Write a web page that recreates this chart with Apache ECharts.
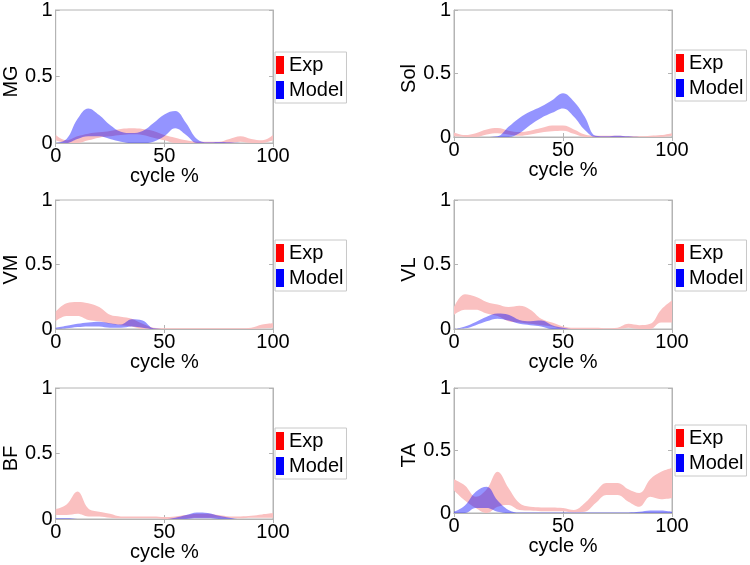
<!DOCTYPE html>
<html>
<head>
<meta charset="utf-8">
<script src="https://cdn.jsdelivr.net/npm/echarts@6/dist/echarts.min.js"></script>
<style>
  html, body { margin: 0; padding: 0; background: #fff; }
  #chart { width: 750px; height: 565px; }
</style>
</head>
<body>
<div id="chart"></div>
<script>
// cycle % sample points
const cyclePct = [0, 5, 10, 15, 20, 25, 30, 35, 40, 45, 50, 55, 60, 65, 70, 75, 80, 85, 90, 95, 100]
const muscles = ['MG', 'Sol', 'VM', 'VL', 'BF', 'TA']
const yTicks = [0, 0.5, 1]

// MG
const mgExpLo = [0.02, 0, 0, 0.02, 0.04, 0.05, 0.06, 0.065, 0.06, 0.04, 0.02, 0, 0, 0, 0, 0, 0, 0.01, 0, 0, 0.02]
const mgExpHi = [0.06, 0.02, 0.05, 0.07, 0.08, 0.09, 0.105, 0.11, 0.105, 0.09, 0.06, 0.04, 0.02, 0.01, 0.01, 0.01, 0.03, 0.05, 0.03, 0.02, 0.06]
const mgModLo = [0, 0, 0.03, 0.05, 0.05, 0.03, 0.01, 0, 0, 0.01, 0.05, 0.11, 0.06, 0, 0, 0, 0, 0, 0, 0, 0]
const mgModHi = [0, 0.03, 0.18, 0.26, 0.21, 0.135, 0.085, 0.075, 0.09, 0.15, 0.215, 0.24, 0.15, 0.03, 0.005, 0.008, 0.005, 0, 0, 0, 0]

// Sol
const solExpLo = [0.005, 0, 0, 0.02, 0.03, 0.02, 0.01, 0.02, 0.035, 0.045, 0.05, 0.025, 0, 0, 0, 0, 0, 0, 0, 0, 0.01]
const solExpHi = [0.035, 0.015, 0.03, 0.06, 0.07, 0.05, 0.04, 0.05, 0.07, 0.09, 0.09, 0.06, 0.02, 0.01, 0.01, 0.01, 0.005, 0.005, 0.01, 0.015, 0.03]
const solModLo = [0, 0, 0, 0, 0, 0, 0.03, 0.095, 0.15, 0.19, 0.225, 0.16, 0.055, 0, 0, 0, 0, 0, 0, 0, 0]
const solModHi = [0, 0, 0, 0, 0.005, 0.08, 0.15, 0.2, 0.24, 0.29, 0.345, 0.28, 0.16, 0.01, 0.005, 0.01, 0.005, 0, 0, 0, 0]

// VM
const vmExpLo = [0.06, 0.1, 0.1, 0.07, 0.06, 0.04, 0.03, 0.02, 0, 0, 0, 0, 0, 0, 0, 0, 0, 0, 0, 0.005, 0.01]
const vmExpHi = [0.135, 0.2, 0.21, 0.2, 0.17, 0.11, 0.095, 0.08, 0.04, 0.01, 0.005, 0.005, 0.005, 0.005, 0.005, 0.005, 0.005, 0.005, 0.01, 0.035, 0.045]
const vmModLo = [0, 0.005, 0.015, 0.02, 0.02, 0.01, 0.01, 0.02, 0.01, 0, 0, 0, 0, 0, 0, 0, 0, 0, 0, 0, 0]
const vmModHi = [0.01, 0.025, 0.04, 0.05, 0.057, 0.045, 0.035, 0.075, 0.065, 0.005, 0, 0, 0, 0, 0, 0, 0, 0, 0, 0, 0]

// VL
const vlExpLo = [0.11, 0.15, 0.15, 0.12, 0.1, 0.06, 0.05, 0.04, 0.03, 0.02, 0, 0, 0, 0, 0, 0, 0.01, 0, 0, 0.05, 0.05]
const vlExpHi = [0.17, 0.27, 0.25, 0.21, 0.19, 0.17, 0.18, 0.15, 0.08, 0.05, 0.02, 0.01, 0.01, 0.01, 0.005, 0.01, 0.04, 0.03, 0.04, 0.15, 0.22]
const vlModLo = [0, 0.005, 0.03, 0.06, 0.08, 0.065, 0.04, 0.03, 0.02, 0, 0, 0, 0, 0, 0, 0, 0, 0, 0, 0, 0]
const vlModHi = [0, 0.02, 0.055, 0.095, 0.12, 0.11, 0.07, 0.06, 0.065, 0.03, 0.01, 0, 0, 0, 0, 0, 0, 0, 0, 0, 0]

// BF
const bfExpLo = [0.03, 0.03, 0.04, 0.02, 0.02, 0.01, 0.005, 0.005, 0.005, 0.005, 0, 0, 0.005, 0.01, 0.01, 0.01, 0.005, 0.005, 0.01, 0.01, 0.01]
const bfExpHi = [0.075, 0.11, 0.21, 0.08, 0.055, 0.04, 0.02, 0.02, 0.02, 0.02, 0.015, 0.02, 0.03, 0.04, 0.04, 0.03, 0.02, 0.02, 0.025, 0.035, 0.045]
const bfModLo = [0, 0, 0, 0, 0, 0, 0, 0, 0, 0, 0, 0, 0, 0.005, 0.005, 0, 0, 0, 0, 0, 0]
const bfModHi = [0.005, 0.005, 0, 0, 0, 0, 0, 0, 0, 0, 0, 0.01, 0.03, 0.05, 0.045, 0.025, 0.01, 0, 0, 0, 0]

// TA
const taExpLo = [0.18, 0.1, 0.04, 0, 0.05, 0.065, 0.025, 0.02, 0.015, 0.015, 0.015, 0.005, 0.01, 0.08, 0.145, 0.145, 0.09, 0.05, 0.13, 0.11, 0.12]
const taExpHi = [0.27, 0.22, 0.13, 0.19, 0.33, 0.2, 0.08, 0.05, 0.045, 0.045, 0.04, 0.025, 0.08, 0.17, 0.24, 0.24, 0.19, 0.16, 0.27, 0.33, 0.36]
const taModLo = [0, 0, 0.04, 0.04, 0.01, 0, 0, 0, 0, 0, 0, 0, 0, 0, 0, 0, 0, 0, 0, 0, 0]
const taModHi = [0.01, 0.06, 0.17, 0.21, 0.1, 0.025, 0.005, 0.005, 0.005, 0.005, 0.005, 0.005, 0.005, 0.005, 0.005, 0.005, 0.005, 0.01, 0.02, 0.02, 0.01]

const bands = [
  [mgExpLo, mgExpHi, mgModLo, mgModHi],
  [solExpLo, solExpHi, solModLo, solModHi],
  [vmExpLo, vmExpHi, vmModLo, vmModHi],
  [vlExpLo, vlExpHi, vlModLo, vlModHi],
  [bfExpLo, bfExpHi, bfModLo, bfModHi],
  [taExpLo, taExpHi, taModLo, taModHi]
]

// panel layout (px)
const panels = [
  { left: 54, top: 10, width: 219, height: 133, lx: 275, ly: 52 },
  { left: 454, top: 10, width: 218, height: 127, lx: 675, ly: 50 },
  { left: 54, top: 200, width: 219, height: 129, lx: 275, ly: 240 },
  { left: 454, top: 200, width: 218, height: 129, lx: 675, ly: 240 },
  { left: 54, top: 388, width: 219, height: 131, lx: 275, ly: 428 },
  { left: 454, top: 388, width: 218, height: 125, lx: 675, ly: 425 }
]

const FONT = '"Liberation Sans", Arial, sans-serif'
const AXIS_GRAY = '#b4b4b4'
const EXP_FILL = 'rgb(250, 192, 192)'
const MOD_FILL = 'rgba(0, 0, 255, 0.42)'
// label every 10th sample -> 0, 50, 100
const TICK_EVERY = 9

const grid = []
const xAxis = []
const yAxis = []
const legend = []
const series = []

function bandSeries(name, idx, lo, hi, fill) {
  const base = {
    type: 'line',
    xAxisIndex: idx * 2,
    yAxisIndex: idx * 2,
    stack: name + idx,
    smooth: 0.4,
    showSymbol: false,
    silent: true,
    lineStyle: { width: 0, opacity: 0 }
  }
  return [
    Object.assign({}, base, {
      name: name + '-base',
      data: lo.slice()
    }),
    Object.assign({}, base, {
      name: name,
      areaStyle: { color: fill, opacity: 1 },
      data: hi.map((v, i) => Math.max(0, v - lo[i]))
    })
  ]
}

panels.forEach((p, k) => {
  grid.push({
    left: p.left, top: p.top, width: p.width, height: p.height,
    show: true, borderColor: AXIS_GRAY, borderWidth: 1, backgroundColor: '#fff'
  })

  const tickStyle = { show: true, inside: true, length: 4, lineStyle: { color: AXIS_GRAY } }

  xAxis.push({
    gridIndex: k, type: 'category', position: 'bottom',
    data: cyclePct.map(String), boundaryGap: false,
    axisLine: { show: true, lineStyle: { color: AXIS_GRAY } },
    axisTick: Object.assign({ interval: TICK_EVERY }, tickStyle),
    splitLine: { show: false },
    axisLabel: { interval: TICK_EVERY, color: '#000', fontSize: 20, fontFamily: FONT, margin: 3 },
    name: 'cycle %', nameLocation: 'middle', nameGap: 20,
    nameTextStyle: { color: '#000', fontSize: 20, fontFamily: FONT }
  })
  xAxis.push({
    gridIndex: k, type: 'category', position: 'top',
    data: cyclePct.map(String), boundaryGap: false,
    axisLine: { show: true, lineStyle: { color: AXIS_GRAY } },
    axisTick: Object.assign({ interval: TICK_EVERY }, tickStyle),
    axisLabel: { show: false }, splitLine: { show: false }
  })
  yAxis.push({
    gridIndex: k, type: 'value', position: 'left',
    min: yTicks[0], max: yTicks[yTicks.length - 1], interval: yTicks[1] - yTicks[0],
    axisLine: { show: true, lineStyle: { color: AXIS_GRAY } },
    axisTick: tickStyle,
    splitLine: { show: false },
    axisLabel: { color: '#000', fontSize: 20, fontFamily: FONT, margin: 3 },
    name: muscles[k], nameLocation: 'middle', nameGap: 33,
    nameTextStyle: { color: '#000', fontSize: 20, fontFamily: FONT, padding: [0, 10, 0, 0] }
  })
  yAxis.push({
    gridIndex: k, type: 'value', position: 'right',
    min: yTicks[0], max: yTicks[yTicks.length - 1], interval: yTicks[1] - yTicks[0],
    axisLine: { show: true, lineStyle: { color: AXIS_GRAY } },
    axisTick: tickStyle, axisLabel: { show: false }, splitLine: { show: false }
  })

  legend.push({
    left: p.lx, top: p.ly,
    orient: 'vertical',
    icon: 'rect', itemWidth: 8, itemHeight: 18, itemGap: 5,
    padding: [3, 3, 3, 1],
    borderColor: '#c8c8c8', borderWidth: 1, backgroundColor: '#fff',
    selectedMode: false,
    textStyle: { color: '#000', fontSize: 20, fontFamily: FONT },
    data: [
      { name: 'Exp', itemStyle: { color: '#ff0000' } },
      { name: 'Model', itemStyle: { color: '#0000ff' } }
    ]
  })

  const b = bands[k]
  series.push(...bandSeries('Exp', k, b[0], b[1], EXP_FILL))
  series.push(...bandSeries('Model', k, b[2], b[3], MOD_FILL))
})

const chart = echarts.init(document.getElementById('chart'), null, { renderer: 'canvas' })
chart.setOption({
  backgroundColor: '#fff',
  animation: false,
  grid, xAxis, yAxis, legend, series
})
</script>
</body>
</html>
